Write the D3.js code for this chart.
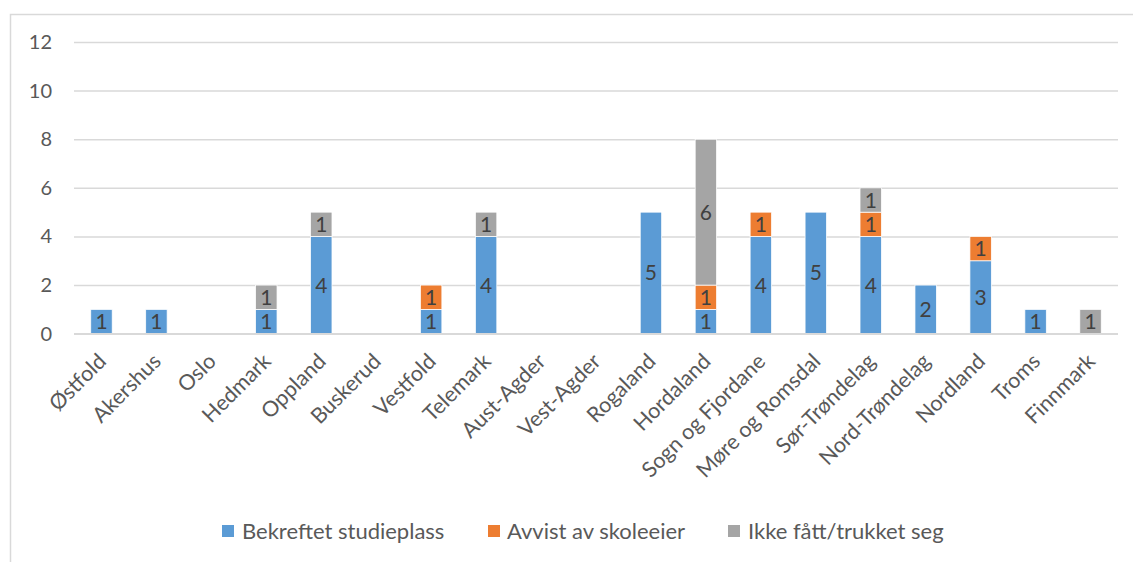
<!DOCTYPE html>
<html><head><meta charset="utf-8">
<script src="https://cdn.jsdelivr.net/npm/d3@7"></script>
<style>body{margin:0;background:#fff}svg{display:block}text{font-family:Lato,"Open Sans",sans-serif}</style>
</head><body><svg id="c" width="1133" height="562"></svg>
<script>
const categories = ["Østfold","Akershus","Oslo","Hedmark","Oppland","Buskerud","Vestfold","Telemark","Aust-Agder","Vest-Agder","Rogaland","Hordaland","Sogn og Fjordane","Møre og Romsdal","Sør-Trøndelag","Nord-Trøndelag","Nordland","Troms","Finnmark"];
const seriesNames = ["Bekreftet studieplass","Avvist av skoleeier","Ikke fått/trukket seg"];
const bekreftet = [1,1,0,1,4,0,1,4,0,0,5,1,4,5,4,2,3,1,0];
const avvist    = [0,0,0,0,0,0,1,0,0,0,0,1,1,0,1,0,1,0,0];
const ikke      = [0,0,0,1,1,0,0,1,0,0,0,6,0,0,1,0,0,0,1];
const yTicks = [0,2,4,6,8,10,12];
const colors = ["#5B9BD5","#ED7D31","#A5A5A5"];

const svg = d3.select("#c");
svg.append("rect").attr("x",10.5).attr("y",14.5).attr("width",1140).attr("height",560)
  .attr("fill","none").attr("stroke","#d9d9d9").attr("stroke-width",1.5);

const x = d3.scaleBand().domain(categories).range([74,1118]).paddingInner(0.61).paddingOuter(0.305);
const y = d3.scaleLinear().domain([0,12]).range([333.7,42]);

const yAxis = d3.axisLeft(y).tickValues(yTicks).tickSize(-(1118-74)).tickPadding(22);
const gy = svg.append("g").attr("transform","translate(74,0)").call(yAxis);
gy.select(".domain").remove();
gy.selectAll(".tick line").attr("stroke","#d9d9d9").attr("stroke-width",1.5);
gy.selectAll(".tick text").attr("fill","#595959").style("font-size","20px");

const table = categories.map((c,i)=>({cat:c, s0:bekreftet[i], s1:avvist[i], s2:ikke[i]}));
const stack = d3.stack().keys(["s0","s1","s2"])(table);

const g = svg.append("g");
stack.forEach((layer,li)=>{
  layer.forEach(d=>{
    const v = d[1]-d[0];
    if(v<=0) return;
    g.append("rect").attr("x",x(d.data.cat)).attr("width",x.bandwidth())
      .attr("y",y(d[1])).attr("height",y(d[0])-y(d[1]))
      .attr("fill",colors[li]).attr("stroke","#fff").attr("stroke-width",0.75);
    g.append("text").attr("x",x(d.data.cat)+x.bandwidth()/2).attr("y",(y(d[0])+y(d[1]))/2)
      .attr("dy","0.36em").attr("text-anchor","middle").attr("fill","#404040")
      .style("font-size","21px").text(v);
  });
});

svg.append("line").attr("x1",74).attr("x2",1118).attr("y1",y(0)).attr("y2",y(0))
  .attr("stroke","#d9d9d9").attr("stroke-width",1.5);

const xAxis = d3.axisBottom(x).tickSize(0).tickPadding(0);
const gx = svg.append("g").attr("transform",`translate(0,${y(0)})`).call(xAxis);
gx.select(".domain").remove();
gx.selectAll(".tick text").attr("fill","#595959").style("font-size","21.5px")
  .attr("text-anchor","end").attr("dy","0").attr("y",0)
  .attr("transform","translate(6,29) rotate(-45)");

const legendItems = [{x:222,tx:242},{x:488,tx:507},{x:728,tx:748}];
seriesNames.forEach((n,i)=>{
  svg.append("rect").attr("x",legendItems[i].x).attr("y",525).attr("width",12).attr("height",12).attr("fill",colors[i]);
  svg.append("text").attr("x",legendItems[i].tx).attr("y",531).attr("dy","0.36em")
    .attr("fill","#595959").style("font-size","22px").text(n);
});
</script></body></html>
